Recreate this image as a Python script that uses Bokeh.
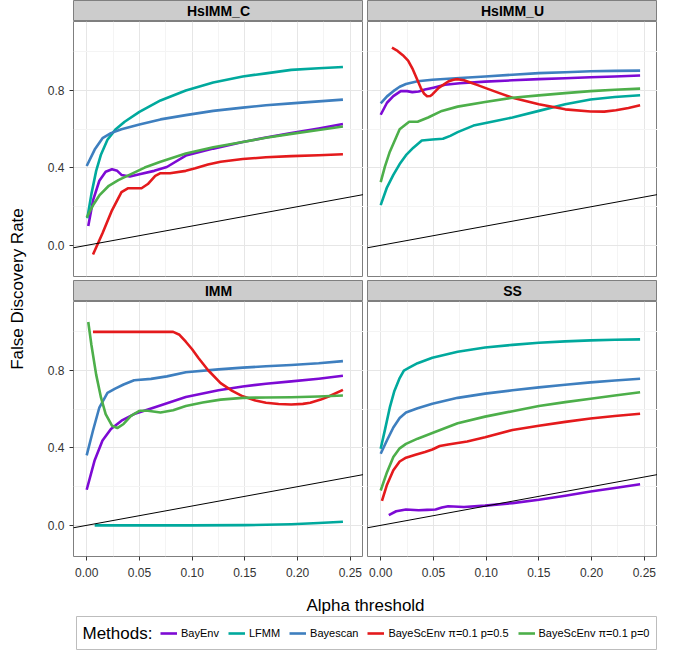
import math
from bokeh.plotting import figure
from bokeh.models import FixedTicker, Label, Slope, Legend, LegendItem, Range1d
from bokeh.layouts import row, column
from bokeh.embed import file_html
from bokeh.resources import INLINE

# ---------------- data ----------------
PANELS = ["HsIMM_C", "HsIMM_U", "IMM", "SS"]
METHODS = ["BayEnv", "LFMM", "Bayescan", "BayeScEnv \u03c0=0.1 p=0.5", "BayeScEnv \u03c0=0.1 p=0"]
COLORS = ["#7D0AD4", "#00A99D", "#3E7FBF", "#E41A1C", "#4DAF4A"]

X_TICKS = [0.0, 0.05, 0.10, 0.15, 0.20, 0.25]
X_TICK_LABELS = ["0.00", "0.05", "0.10", "0.15", "0.20", "0.25"]
X_MINOR = [0.025, 0.075, 0.125, 0.175, 0.225]
Y_TICKS = [0.0, 0.4, 0.8]
Y_TICK_LABELS = ["0.0", "0.4", "0.8"]
Y_MINOR = [-0.2, 0.2, 0.6, 1.0]

# HsIMM_C
HC_BAYENV_X = [0.0015, 0.006, 0.012, 0.018, 0.024, 0.029, 0.033, 0.041, 0.05, 0.064, 0.076, 0.094, 0.12, 0.148, 0.17, 0.194, 0.22, 0.243]
HC_BAYENV_Y = [0.10, 0.232, 0.334, 0.38, 0.393, 0.385, 0.364, 0.356, 0.368, 0.385, 0.405, 0.464, 0.50, 0.534, 0.557, 0.58, 0.604, 0.627]
HC_LFMM_X = [0.0006, 0.0045, 0.009, 0.0136, 0.0197, 0.027, 0.036, 0.05, 0.07, 0.094, 0.12, 0.148, 0.17, 0.194, 0.22, 0.243]
HC_LFMM_Y = [0.14, 0.266, 0.385, 0.47, 0.546, 0.597, 0.639, 0.69, 0.749, 0.80, 0.842, 0.873, 0.889, 0.907, 0.915, 0.922]
HC_BAYESCAN_X = [0.0, 0.0076, 0.015, 0.023, 0.033, 0.05, 0.07, 0.094, 0.12, 0.148, 0.17, 0.194, 0.22, 0.243]
HC_BAYESCAN_Y = [0.41, 0.495, 0.554, 0.58, 0.60, 0.625, 0.651, 0.673, 0.695, 0.712, 0.724, 0.734, 0.744, 0.753]
HC_BSE05_X = [0.006, 0.015, 0.024, 0.033, 0.039, 0.045, 0.052, 0.058, 0.065, 0.07, 0.079, 0.094, 0.103, 0.115, 0.127, 0.148, 0.17, 0.194, 0.22, 0.243]
HC_BSE05_Y = [-0.047, 0.063, 0.181, 0.275, 0.295, 0.295, 0.295, 0.317, 0.359, 0.373, 0.373, 0.385, 0.398, 0.418, 0.432, 0.446, 0.455, 0.461, 0.466, 0.471]
HC_BSE0_X = [0.0, 0.006, 0.012, 0.021, 0.03, 0.042, 0.055, 0.07, 0.094, 0.12, 0.148, 0.17, 0.194, 0.22, 0.243]
HC_BSE0_Y = [0.144, 0.207, 0.258, 0.308, 0.337, 0.368, 0.402, 0.432, 0.475, 0.507, 0.534, 0.556, 0.576, 0.596, 0.614]

# HsIMM_U
HU_BAYENV_X = [0.0, 0.006, 0.012, 0.019, 0.025, 0.03, 0.036, 0.042, 0.05, 0.061, 0.075, 0.099, 0.125, 0.15, 0.175, 0.199, 0.222, 0.246]
HU_BAYENV_Y = [0.675, 0.737, 0.771, 0.797, 0.797, 0.792, 0.795, 0.805, 0.815, 0.83, 0.838, 0.846, 0.853, 0.859, 0.864, 0.869, 0.873, 0.878]
HU_LFMM_X = [0.0, 0.006, 0.012, 0.018, 0.024, 0.031, 0.039, 0.049, 0.059, 0.066, 0.073, 0.088, 0.11, 0.125, 0.15, 0.175, 0.199, 0.222, 0.246]
HU_LFMM_Y = [0.208, 0.30, 0.364, 0.42, 0.466, 0.505, 0.542, 0.547, 0.551, 0.566, 0.585, 0.619, 0.644, 0.661, 0.695, 0.729, 0.754, 0.767, 0.776]
HU_BAYESCAN_X = [0.0, 0.006, 0.012, 0.018, 0.024, 0.035, 0.049, 0.075, 0.099, 0.125, 0.15, 0.175, 0.199, 0.222, 0.246]
HU_BAYESCAN_Y = [0.734, 0.77, 0.797, 0.82, 0.834, 0.848, 0.856, 0.865, 0.873, 0.882, 0.89, 0.895, 0.90, 0.902, 0.903]
HU_BSE05_X = [0.0107, 0.016, 0.021, 0.026, 0.03, 0.034, 0.038, 0.041, 0.044, 0.047, 0.049, 0.052, 0.055, 0.06, 0.064, 0.069, 0.073, 0.079, 0.085, 0.092, 0.099, 0.11, 0.125, 0.15, 0.175, 0.199, 0.212, 0.223, 0.235, 0.246]
HU_BSE05_Y = [1.022, 1.005, 0.983, 0.955, 0.915, 0.865, 0.814, 0.785, 0.771, 0.772, 0.78, 0.797, 0.814, 0.832, 0.847, 0.856, 0.859, 0.853, 0.842, 0.828, 0.814, 0.792, 0.763, 0.729, 0.703, 0.692, 0.691, 0.698, 0.71, 0.724]
HU_BSE0_X = [0.0, 0.004, 0.0086, 0.018, 0.027, 0.035, 0.045, 0.058, 0.073, 0.099, 0.125, 0.15, 0.175, 0.199, 0.222, 0.246]
HU_BSE0_Y = [0.327, 0.407, 0.483, 0.60, 0.639, 0.639, 0.661, 0.695, 0.717, 0.741, 0.763, 0.775, 0.787, 0.797, 0.804, 0.81]

# IMM
IM_BAYENV_X = [0.0, 0.0076, 0.015, 0.023, 0.033, 0.045, 0.064, 0.094, 0.125, 0.148, 0.17, 0.194, 0.22, 0.243]
IM_BAYENV_Y = [0.184, 0.337, 0.439, 0.498, 0.541, 0.575, 0.609, 0.663, 0.698, 0.718, 0.732, 0.744, 0.758, 0.773]
IM_LFMM_X = [0.0076, 0.05, 0.10, 0.15, 0.17, 0.194, 0.22, 0.243]
IM_LFMM_Y = [0.0, 0.0, 0.0, 0.001, 0.003, 0.006, 0.012, 0.019]
IM_BAYESCAN_X = [0.0, 0.006, 0.012, 0.0197, 0.027, 0.035, 0.045, 0.061, 0.076, 0.094, 0.125, 0.148, 0.17, 0.194, 0.22, 0.243]
IM_BAYESCAN_Y = [0.362, 0.49, 0.609, 0.685, 0.707, 0.728, 0.75, 0.757, 0.77, 0.791, 0.806, 0.815, 0.822, 0.829, 0.838, 0.849]
IM_BSE05_X = [0.006, 0.05, 0.082, 0.088, 0.094, 0.10, 0.106, 0.115, 0.127, 0.138, 0.148, 0.16, 0.17, 0.182, 0.194, 0.205, 0.212, 0.222, 0.23, 0.243]
IM_BSE05_Y = [1.0, 1.0, 1.0, 0.985, 0.949, 0.91, 0.865, 0.803, 0.735, 0.695, 0.667, 0.645, 0.634, 0.627, 0.625, 0.628, 0.634, 0.65, 0.667, 0.70]
IM_BSE0_X = [0.0015, 0.0045, 0.009, 0.0136, 0.018, 0.024, 0.029, 0.035, 0.042, 0.05, 0.058, 0.07, 0.082, 0.094, 0.11, 0.127, 0.148, 0.17, 0.194, 0.22, 0.243]
IM_BSE0_Y = [1.051, 0.932, 0.779, 0.66, 0.575, 0.515, 0.503, 0.524, 0.566, 0.592, 0.592, 0.583, 0.595, 0.617, 0.635, 0.65, 0.659, 0.661, 0.662, 0.666, 0.671]

# SS
SS_BAYENV_X = [0.0077, 0.0147, 0.024, 0.036, 0.044, 0.052, 0.058, 0.064, 0.079, 0.099, 0.125, 0.15, 0.175, 0.199, 0.222, 0.246]
SS_BAYENV_Y = [0.053, 0.073, 0.082, 0.078, 0.08, 0.082, 0.092, 0.099, 0.095, 0.102, 0.115, 0.132, 0.153, 0.175, 0.193, 0.212]
SS_LFMM_X = [0.0, 0.0043, 0.0086, 0.013, 0.018, 0.022, 0.027, 0.035, 0.049, 0.073, 0.099, 0.125, 0.15, 0.175, 0.199, 0.222, 0.246]
SS_LFMM_Y = [0.396, 0.50, 0.608, 0.695, 0.761, 0.80, 0.815, 0.838, 0.866, 0.897, 0.919, 0.933, 0.944, 0.951, 0.956, 0.959, 0.961]
SS_BAYESCAN_X = [0.0, 0.006, 0.012, 0.018, 0.024, 0.035, 0.049, 0.073, 0.099, 0.125, 0.15, 0.175, 0.199, 0.222, 0.246]
SS_BAYESCAN_Y = [0.37, 0.44, 0.506, 0.555, 0.583, 0.605, 0.628, 0.659, 0.681, 0.698, 0.713, 0.727, 0.739, 0.749, 0.758]
SS_BSE05_X = [0.0012, 0.006, 0.012, 0.018, 0.024, 0.033, 0.042, 0.049, 0.056, 0.064, 0.082, 0.099, 0.125, 0.15, 0.175, 0.199, 0.222, 0.246]
SS_BSE05_Y = [0.127, 0.21, 0.285, 0.33, 0.35, 0.365, 0.379, 0.392, 0.41, 0.418, 0.433, 0.455, 0.493, 0.515, 0.535, 0.552, 0.565, 0.577]
SS_BSE0_X = [0.0, 0.006, 0.012, 0.018, 0.024, 0.035, 0.049, 0.073, 0.099, 0.125, 0.15, 0.175, 0.199, 0.222, 0.246]
SS_BSE0_Y = [0.18, 0.275, 0.353, 0.398, 0.421, 0.448, 0.477, 0.528, 0.562, 0.59, 0.617, 0.637, 0.654, 0.671, 0.688]

SERIES = {
    "HsIMM_C": [(HC_BAYENV_X, HC_BAYENV_Y), (HC_LFMM_X, HC_LFMM_Y), (HC_BAYESCAN_X, HC_BAYESCAN_Y),
                (HC_BSE05_X, HC_BSE05_Y), (HC_BSE0_X, HC_BSE0_Y)],
    "HsIMM_U": [(HU_BAYENV_X, HU_BAYENV_Y), (HU_LFMM_X, HU_LFMM_Y), (HU_BAYESCAN_X, HU_BAYESCAN_Y),
                (HU_BSE05_X, HU_BSE05_Y), (HU_BSE0_X, HU_BSE0_Y)],
    "IMM": [(IM_BAYENV_X, IM_BAYENV_Y), (IM_LFMM_X, IM_LFMM_Y), (IM_BAYESCAN_X, IM_BAYESCAN_Y),
            (IM_BSE05_X, IM_BSE05_Y), (IM_BSE0_X, IM_BSE0_Y)],
    "SS": [(SS_BAYENV_X, SS_BAYENV_Y), (SS_LFMM_X, SS_LFMM_Y), (SS_BAYESCAN_X, SS_BAYESCAN_Y),
           (SS_BSE05_X, SS_BSE05_Y), (SS_BSE0_X, SS_BSE0_Y)],
}

# ---------------- styling / layout ----------------
FONT = "Liberation Sans"
XR = (-0.0125, 0.2625)
YR = (-0.161, 1.157)
FW, FH = 290, 255
YLAB_W = 30
LEFT_B = 43
GAP = 4
STRIP_H = 21
BOTTOM_AX = 28
LW = 2.6
TOTAL_W = YLAB_W + LEFT_B + FW + GAP + FW
LEG_OFF = 76
LEG_W = TOTAL_W - LEG_OFF
LEG_H = 34
XLAB_H = 32


def make_panel(name, left, bottom):
    p = figure(frame_width=FW, frame_height=FH,
               x_range=Range1d(*XR), y_range=Range1d(*YR),
               output_backend="svg", toolbar_location=None,
               x_axis_location="below" if bottom else None,
               y_axis_location="left" if left else None,
               min_border_left=LEFT_B if left else GAP, min_border_right=0,
               min_border_top=0, min_border_bottom=BOTTOM_AX if bottom else GAP)
    p.background_fill_color = "white"
    p.border_fill_color = "white"
    p.outline_line_color = "#7F7F7F"
    p.outline_line_width = 1
    for g in p.xgrid:
        g.ticker = FixedTicker(ticks=X_TICKS, minor_ticks=X_MINOR)
    for g in p.ygrid:
        g.ticker = FixedTicker(ticks=Y_TICKS, minor_ticks=Y_MINOR)
    p.grid.grid_line_color = "#E6E6E6"
    p.grid.grid_line_width = 1
    p.grid.minor_grid_line_color = "#F4F4F4"
    p.grid.minor_grid_line_width = 1
    for ax in p.xaxis:
        ax.ticker = FixedTicker(ticks=X_TICKS, minor_ticks=[])
        ax.major_label_overrides = dict(zip(X_TICKS, X_TICK_LABELS))
        ax.major_label_standoff = 7
    for ax in p.yaxis:
        ax.ticker = FixedTicker(ticks=Y_TICKS, minor_ticks=[])
        ax.major_label_overrides = dict(zip(Y_TICKS, Y_TICK_LABELS))
        ax.major_label_standoff = 5
    for ax in p.axis:
        ax.axis_line_color = None
        ax.major_tick_line_color = "#333333"
        ax.major_tick_in = 0
        ax.major_tick_out = 4
        ax.minor_tick_line_color = None
        ax.major_label_text_font = FONT
        ax.major_label_text_font_size = "12px"
        ax.major_label_text_color = "#333333"
    for (xs, ys), c in zip(SERIES[name], COLORS):
        p.line(xs, ys, line_color=c, line_width=LW, line_join="round")
    p.add_layout(Slope(gradient=1, y_intercept=0, line_color="black", line_width=1))
    return p


def make_strip(name, left):
    s = figure(frame_width=FW, frame_height=STRIP_H,
               x_range=Range1d(0, 1), y_range=Range1d(0, 1),
               output_backend="svg", toolbar_location=None,
               x_axis_location=None, y_axis_location=None,
               min_border_left=LEFT_B if left else GAP, min_border_right=0,
               min_border_top=0, min_border_bottom=0)
    s.grid.visible = False
    s.background_fill_color = "#CCCCCC"
    s.border_fill_color = "white"
    s.outline_line_color = "#7F7F7F"
    s.add_layout(Label(x=0.5, y=0.5, text=name, text_align="center", text_baseline="middle",
                       text_font=FONT, text_font_style="bold", text_font_size="14px",
                       text_color="black"))
    return s


strips = [make_strip(n, i % 2 == 0) for i, n in enumerate(PANELS)]
panels = [make_panel(n, i % 2 == 0, i >= 2) for i, n in enumerate(PANELS)]

GRID_H = STRIP_H + FH + GAP + STRIP_H + FH + BOTTOM_AX
grid = column(row(strips[0], strips[1]), row(panels[0], panels[1]),
              row(strips[2], strips[3]), row(panels[2], panels[3]))

# y axis title
ylab = figure(frame_width=YLAB_W, frame_height=GRID_H, x_range=Range1d(0, YLAB_W),
              y_range=Range1d(0, GRID_H), output_backend="svg", toolbar_location=None,
              x_axis_location=None, y_axis_location=None,
              min_border_left=0, min_border_right=0, min_border_top=0, min_border_bottom=0)
ylab.grid.visible = False
ylab.outline_line_color = None
panel_mid = GRID_H - (STRIP_H + (FH * 2 + GAP + STRIP_H) / 2.0)
ylab.add_layout(Label(x=17, y=panel_mid, text="False Discovery Rate", angle=math.pi / 2,
                      text_align="center", text_baseline="middle", text_font=FONT,
                      text_font_size="17px", text_color="black"))

# x axis title (same left border as the legend so the frames line up)
xlab = figure(frame_width=LEG_W, frame_height=XLAB_H, x_range=Range1d(0, LEG_W),
              y_range=Range1d(0, XLAB_H), output_backend="svg", toolbar_location=None,
              x_axis_location=None, y_axis_location=None,
              min_border_left=LEG_OFF, min_border_right=0, min_border_top=0, min_border_bottom=0)
xlab.grid.visible = False
xlab.outline_line_color = None
xlab.add_layout(Label(x=YLAB_W + LEFT_B + (FW * 2 + GAP) / 2.0 - LEG_OFF, y=11, text="Alpha threshold",
                      text_align="center", text_baseline="middle", text_font=FONT,
                      text_font_size="17px", text_color="black"))

# legend
leg = figure(frame_width=LEG_W, frame_height=LEG_H, x_range=Range1d(0, LEG_W),
             y_range=Range1d(0, LEG_H), output_backend="svg", toolbar_location=None,
             x_axis_location=None, y_axis_location=None,
             min_border_left=LEG_OFF, min_border_right=0, min_border_top=0, min_border_bottom=0)
leg.grid.visible = False
leg.outline_line_color = "#BDBDBD"
leg.add_layout(Label(x=6, y=LEG_H / 2.0, text="Methods:", text_align="left", text_baseline="middle",
                     text_font=FONT, text_font_size="17px", text_color="black"))
items = []
for m, c in zip(METHODS, COLORS):
    r = leg.line([float("nan")], [float("nan")], line_color=c, line_width=LW)
    items.append(LegendItem(label=m, renderers=[r]))
legend = Legend(items=items, orientation="horizontal", location=(84, 7),
                border_line_color=None, background_fill_alpha=0, padding=0, margin=0,
                spacing=9, glyph_width=17, glyph_height=14, label_standoff=4,
                label_height=20, label_text_font=FONT, label_text_font_size="11px",
                label_text_color="black")
leg.add_layout(legend, "center")

layout = column(row(ylab, grid), xlab, leg)

open("out.html", "w").write(file_html(layout, INLINE))
